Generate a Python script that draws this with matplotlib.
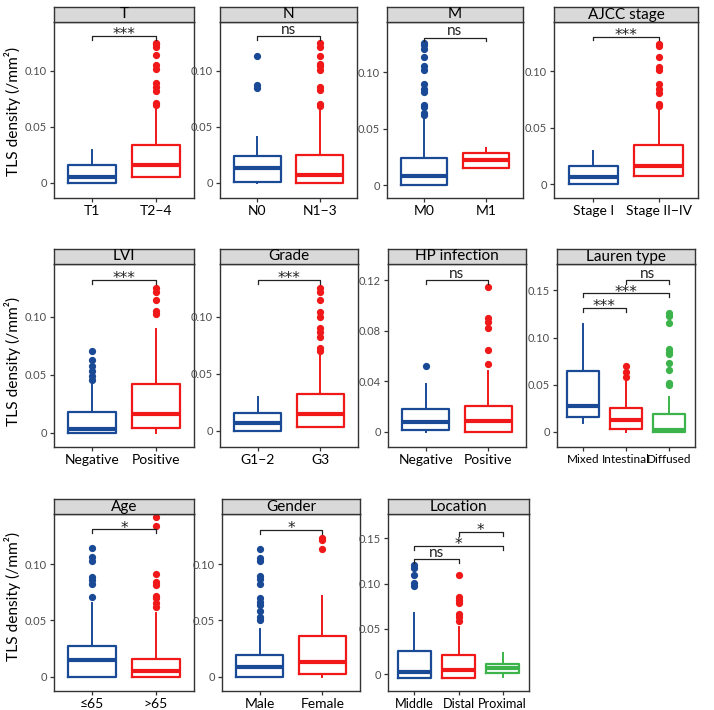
import matplotlib.pyplot as plt
import numpy as np

plt.rcParams['font.family'] = ['Lato', 'DejaVu Sans']

BLUE = "#1a4a96"
RED = "#f01818"
GREEN = "#3cb44b"

# box stats per group: q1, median, q3, lower whisker, upper whisker
T_labels = ["T1", "T2−4"]
T_box = [[0.0, 0.0056, 0.016, 0.0, 0.029], [0.0056, 0.0157, 0.0338, 0.0056, 0.0685]]
T_out = [[], [0.070, 0.0715, 0.0825, 0.0858, 0.0896, 0.1018, 0.105, 0.114, 0.1217, 0.1237, 0.125]]
T_sig = [(1, 2, 0.131, "***")]

N_labels = ["N0", "N1−3"]
N_box = [[0.0012, 0.0134, 0.0243, 0.0, 0.041], [0.0, 0.0068, 0.0252, 0.0, 0.0644]]
N_out = [[0.0852, 0.0875, 0.1137], [0.069, 0.0703, 0.083, 0.086, 0.101, 0.104, 0.106, 0.1137, 0.1217, 0.1246]]
N_sig = [(1, 2, 0.131, "ns")]

M_labels = ["M0", "M1"]
M_box = [[0.0, 0.0083, 0.024, 0.0, 0.0657], [0.0151, 0.0219, 0.0284, 0.0151, 0.0325]]
M_out = [[0.0625, 0.064, 0.0695, 0.071, 0.0825, 0.085, 0.0896, 0.102, 0.1056, 0.114, 0.121, 0.124, 0.1257], []]
M_sig = [(1, 2, 0.1308, "ns")]

AJCC_labels = ["Stage I", "Stage II−IV"]
AJCC_box = [[0.0, 0.0065, 0.0157, 0.0, 0.0293], [0.0071, 0.0163, 0.0346, 0.0071, 0.0686]]
AJCC_out = [[], [0.0695, 0.071, 0.081, 0.0843, 0.0888, 0.101, 0.1041, 0.113, 0.122, 0.124]]
AJCC_sig = [(1, 2, 0.1308, "***")]

LVI_labels = ["Negative", "Positive"]
LVI_box = [[0.0, 0.0032, 0.0175, 0.0, 0.044], [0.004, 0.0158, 0.0417, 0.0, 0.0894]]
LVI_out = [[0.0454, 0.049, 0.053, 0.0575, 0.063, 0.070], [0.102, 0.1048, 0.1144, 0.1216, 0.1244]]
LVI_sig = [(1, 2, 0.1315, "***")]

Grade_labels = ["G1−2", "G3"]
Grade_box = [[0.0, 0.0064, 0.0155, 0.0, 0.0298], [0.0035, 0.0146, 0.0322, 0.0035, 0.067]]
Grade_out = [[], [0.070, 0.0722, 0.0825, 0.0868, 0.0898, 0.100, 0.104, 0.1146, 0.1219, 0.1249]]
Grade_sig = [(1, 2, 0.132, "***")]

HP_labels = ["Negative", "Positive"]
HP_box = [[0.0013, 0.0079, 0.0177, 0.0, 0.0374], [0.0, 0.0087, 0.0206, 0.0, 0.048]]
HP_out = [[0.052], [0.0533, 0.065, 0.0823, 0.087, 0.090, 0.1147]]
HP_sig = [(1, 2, 0.12, "ns")]

Lauren_labels = ["Mixed", "Intestinal", "Diffused"]
Lauren_box = [[0.0159, 0.0276, 0.0644, 0.0088, 0.1139],
              [0.0028, 0.0124, 0.0248, 0.0, 0.053],
              [0.0, 0.0021, 0.0191, 0.0, 0.0371]]
Lauren_out = [[], [0.0577, 0.0637, 0.0697],
              [0.0495, 0.0513, 0.0654, 0.0725, 0.082, 0.0842, 0.0877, 0.115, 0.123, 0.1256]]
Lauren_sig = [(1, 2, 0.1316, "***"), (1, 3, 0.1468, "***"), (2, 3, 0.161, "ns")]

Age_labels = ["≤65", ">65"]
Age_box = [[0.0, 0.0145, 0.0272, 0.0, 0.065], [0.0, 0.005, 0.0154, 0.0, 0.0565]]
Age_out = [[0.0704, 0.082, 0.0858, 0.0888, 0.1027, 0.106, 0.114],
           [0.0615, 0.065, 0.0695, 0.072, 0.0814, 0.0843, 0.0911, 0.1337, 0.142]]
Age_sig = [(1, 2, 0.1308, "*")]

Gender_labels = ["Male", "Female"]
Gender_box = [[0.0, 0.0082, 0.019, 0.0, 0.0426], [0.0024, 0.0129, 0.0359, 0.0, 0.0712]]
Gender_out = [[0.050, 0.053, 0.058, 0.064, 0.066, 0.0697, 0.082, 0.0868, 0.0897, 0.1024, 0.1053, 0.1132],
              [0.1132, 0.1212, 0.1235]]
Gender_sig = [(1, 2, 0.13, "*")]

Loc_labels = ["Middle", "Distal", "Proximal"]
Loc_box = [[-0.004, 0.0026, 0.0255, -0.004, 0.0672],
           [-0.0048, 0.0044, 0.0207, -0.0048, 0.0525],
           [0.0011, 0.0063, 0.0107, -0.0037, 0.0229]]
Loc_out = [[0.0968, 0.1005, 0.1097, 0.117, 0.1208],
           [0.059, 0.0635, 0.066, 0.078, 0.082, 0.0857, 0.1097], []]
Loc_sig = [(1, 2, 0.127, "ns"), (1, 3, 0.1419, "*"), (2, 3, 0.157, "*")]

W, H = 714, 710
colors = [BLUE, RED, GREEN]
fig = plt.figure(figsize=(W / 100, H / 100), dpi=100)


def panel(left, right, top, bottom, title, labels, box, out, sig, ylim, yticks, ylabels, xfs=10):
    ax = fig.add_axes([left / W, 1 - bottom / H, (right - left) / W, (bottom - top) / H])
    hx = fig.add_axes([left / W, 1 - top / H, (right - left) / W, 15 / H])
    hx.set_facecolor("#d9d9d9")
    hx.set_xticks([])
    hx.set_yticks([])
    for s in hx.spines.values():
        s.set_color("#333333")
        s.set_linewidth(1.0)
    hx.text(0.5, 0.5, title, ha="center", va="center", fontsize=11, transform=hx.transAxes)

    n = len(labels)
    for i in range(n):
        st = dict(q1=box[i][0], med=box[i][1], q3=box[i][2],
                  whislo=box[i][3], whishi=box[i][4], fliers=out[i])
        c = colors[i]
        ax.bxp([st], positions=[i + 1], widths=0.75, showcaps=False,
               boxprops=dict(color=c, lw=1.6),
               whiskerprops=dict(color=c, lw=1.4),
               medianprops=dict(color=c, lw=3.0, solid_capstyle="butt"),
               flierprops=dict(marker="o", markerfacecolor=c, markeredgecolor=c, markersize=4.2))

    span = ylim[1] - ylim[0]
    d = span * 0.022
    for a, b, y, lab in sig:
        ax.plot([a, a, b, b], [y - d, y, y, y - d], color="#222222", lw=0.9)
        if lab.startswith("*"):
            ax.text((a + b) / 2, y - span * 0.018, lab, ha="center", va="baseline",
                    fontsize=11, family="DejaVu Sans", color="#222222")
        else:
            ax.text((a + b) / 2, y + span * 0.012, lab, ha="center", va="baseline",
                    fontsize=11, color="#222222")

    ax.set_xlim(0.4, n + 0.6)
    ax.set_ylim(*ylim)
    ax.set_xticks(range(1, n + 1))
    ax.set_xticklabels(labels, fontsize=xfs, color="black")
    ax.set_yticks(yticks)
    ax.set_yticklabels(ylabels, fontsize=8, color="#4d4d4d")
    ax.tick_params(length=3, width=0.9, color="#333333", pad=2)
    ax.tick_params(axis="x", pad=2)
    for s in ax.spines.values():
        s.set_color("#333333")
        s.set_linewidth(1.0)
    return ax


t1 = [0, 0.05, 0.10]
l1 = ["0", "0.05", "0.10"]
t2 = [0, 0.05, 0.10, 0.15]
l2 = ["0", "0.05", "0.10", "0.15"]
t3 = [0, 0.04, 0.08, 0.12]
l3 = ["0", "0.04", "0.08", "0.12"]

panel(54, 194, 22, 198, "T", T_labels, T_box, T_out, T_sig, (-0.0134, 0.1437), t1, l1)
panel(220, 357, 22, 198, "N", N_labels, N_box, N_out, N_sig, (-0.0134, 0.1437), t1, l1)
panel(387, 523, 22, 198, "M", M_labels, M_box, M_out, M_sig, (-0.0115, 0.1446), t1, l1)
panel(554, 698, 22, 198, "AJCC stage", AJCC_labels, AJCC_box, AJCC_out, AJCC_sig, (-0.0124, 0.1437), t1, l1)

panel(54, 194, 264, 447, "LVI", LVI_labels, LVI_box, LVI_out, LVI_sig, (-0.0123, 0.1454), t1, l1)
panel(220, 358, 264, 447, "Grade", Grade_labels, Grade_box, Grade_out, Grade_sig, (-0.0143, 0.1462), t1, l1)
panel(388, 526, 264, 447, "HP infection", HP_labels, HP_box, HP_out, HP_sig, (-0.0121, 0.1327), t3, l3)
panel(557, 695, 264, 447, "Lauren type", Lauren_labels, Lauren_box, Lauren_out, Lauren_sig, (-0.0162, 0.178), t2, l2, xfs=8.5)

panel(54, 194, 514, 691, "Age", Age_labels, Age_box, Age_out, Age_sig, (-0.0127, 0.1444), t1, l1)
panel(222, 360, 514, 691, "Gender", Gender_labels, Gender_box, Gender_out, Gender_sig, (-0.0127, 0.1444), t1, l1)
panel(388, 529, 514, 691, "Location", Loc_labels, Loc_box, Loc_out, Loc_sig, (-0.0188, 0.177), t2, l2, xfs=9.2)

for yc in [111, 361, 596]:
    fig.text(13 / W, 1 - yc / H, "TLS density (/mm²)", rotation=90, ha="center", va="center", fontsize=11.2)

fig.savefig("out.png", dpi=100)
